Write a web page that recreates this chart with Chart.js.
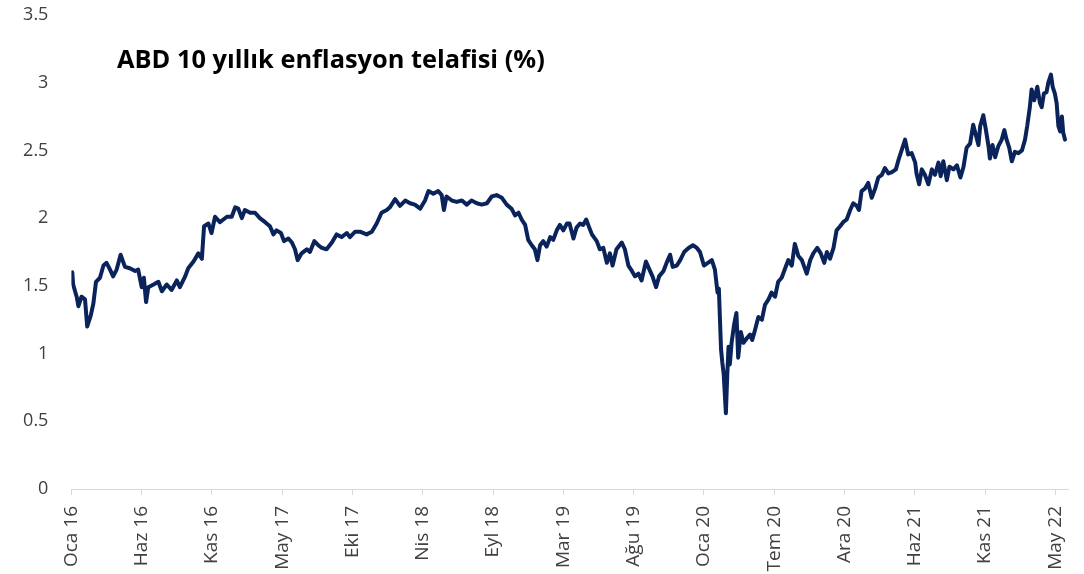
<!DOCTYPE html>
<html lang="tr">
<head>
<meta charset="utf-8">
<title>ABD 10 yıllık enflasyon telafisi</title>
<script src="https://cdn.jsdelivr.net/npm/chart.js@4.4.0/dist/chart.umd.min.js"></script>
<style>
  html, body { margin: 0; padding: 0; background: #fff; }
  #wrap { position: relative; width: 1084px; height: 574px; }
  #title {
    position: absolute; left: 117px; top: 46px;
    font: bold 25.4px/25px "Open Sans", sans-serif; color: #000; white-space: nowrap;
  }
</style>
</head>
<body>
<div id="wrap">
  <canvas id="chart"></canvas>
  <div id="title">ABD 10 yıllık enflasyon telafisi (%)</div>
</div>
<script>
// x axis: one tick label every 16 sample steps (trading-day based, so labels are evenly spaced)
const STEPS_PER_LABEL = 16;
const X_MAX = 227;

const tickLabels = ["Oca 16", "Haz 16", "Kas 16", "May 17", "Eki 17", "Nis 18", "Eyl 18",
  "Mar 19", "Ağu 19", "Oca 20", "Tem 20", "Ara 20", "Haz 21", "Kas 21", "May 22"];

const yTicks = [0, 0.5, 1, 1.5, 2, 2.5, 3, 3.5];

// sample position (in steps from Oca 16) and breakeven value (%)
const steps = [
  0.2, 0.4, 1.2, 1.6, 2.3, 3.1, 3.6, 4.4, 5.0, 5.6, 6.5, 7.3, 8.0, 8.8, 9.5, 10.3, 11.2, 12.2, 13.3, 14.5,
  15.2, 16.0, 16.5, 17.0, 17.5, 18.7, 19.8, 20.6, 21.7, 22.8, 24.0, 24.7, 25.9, 26.6, 27.8, 28.9, 29.7, 30.2, 31.2, 31.9,
  32.7, 33.8, 34.6, 35.4, 36.5, 37.3, 38.0, 38.8, 39.5, 40.7, 41.8, 42.9, 44.1, 45.2, 46.0, 46.7, 47.7, 48.4, 49.4, 50.2,
  50.9, 51.5, 52.4, 53.6, 54.3, 55.3, 56.2, 57.0, 58.1, 59.3, 60.4, 61.5, 62.7, 63.4, 64.6, 65.7, 67.2, 68.4, 69.5, 70.6,
  71.8, 72.5, 73.7, 74.8, 76.0, 77.1, 78.2, 79.4, 80.5, 81.3, 82.4, 83.5, 84.3, 84.8, 85.4, 86.6, 87.7, 88.9, 90.0, 91.1,
  92.3, 93.4, 94.6, 95.7, 96.8, 98.0, 99.1, 100.2, 101.0, 101.8, 102.5, 103.3, 104.0, 104.8, 105.5, 106.1, 106.7, 107.4, 108.2, 109.0,
  109.7, 110.5, 111.2, 112.0, 112.8, 113.4, 114.3, 115.0, 115.8, 116.5, 117.2, 117.9, 118.5, 119.6, 120.3, 121.1, 121.9, 122.6, 123.2, 124.1,
  125.3, 126.0, 126.8, 127.6, 128.3, 129.1, 129.8, 130.8, 131.6, 132.3, 133.1, 133.8, 134.8, 135.5, 136.3, 136.9, 137.8, 138.6, 139.5, 140.5,
  141.5, 142.4, 143.1, 144.0, 144.9, 145.8, 146.5, 147.1, 147.4, 147.9, 148.2, 148.5, 149.0, 149.3, 149.6, 149.9, 150.3, 150.9, 151.4, 151.8,
  152.4, 153.0, 153.7, 154.5, 155.0, 155.6, 156.4, 157.2, 157.9, 158.7, 159.4, 160.2, 160.9, 161.7, 162.5, 163.2, 164.0, 164.7, 165.5, 166.3,
  167.4, 168.2, 168.9, 169.8, 170.6, 171.4, 172.0, 172.7, 173.5, 174.2, 175.0, 175.7, 176.5, 177.3, 178.0, 178.8, 179.3, 179.9, 180.7, 181.4,
  182.2, 183.0, 183.7, 184.5, 185.2, 186.0, 186.8, 187.7, 188.3, 189.0, 189.8, 190.5, 191.3, 192.1, 192.4, 193.0, 193.6, 194.3, 195.1, 195.9,
  196.6, 197.4, 197.9, 198.5, 199.3, 199.9, 200.8, 201.6, 202.4, 203.1, 203.8, 204.6, 205.3, 205.7, 206.5, 206.9, 207.6, 208.2, 208.8, 209.1,
  209.7, 210.3, 211.0, 211.8, 212.4, 212.9, 213.5, 214.1, 214.8, 215.6, 216.4, 217.1, 217.6, 218.2, 218.6, 219.2, 219.9, 220.5, 220.9, 221.4,
  222.0, 222.4, 223.0, 223.4, 223.9, 224.3, 224.7, 225.1, 225.5, 225.8, 226.2
];

const breakeven = [
  1.60, 1.51, 1.42, 1.35, 1.42, 1.40, 1.20, 1.28, 1.37, 1.53, 1.56, 1.65, 1.67, 1.62, 1.57, 1.62, 1.73, 1.64, 1.63, 1.61,
  1.62, 1.49, 1.56, 1.38, 1.49, 1.51, 1.53, 1.46, 1.51, 1.47, 1.54, 1.49, 1.57, 1.63, 1.68, 1.74, 1.70, 1.94, 1.96, 1.89,
  2.01, 1.97, 1.99, 2.01, 2.01, 2.08, 2.07, 2.00, 2.06, 2.04, 2.04, 2.00, 1.97, 1.94, 1.88, 1.91, 1.89, 1.83, 1.85, 1.82,
  1.77, 1.69, 1.74, 1.77, 1.75, 1.83, 1.80, 1.78, 1.77, 1.82, 1.88, 1.86, 1.89, 1.86, 1.90, 1.90, 1.88, 1.90, 1.96, 2.04,
  2.06, 2.08, 2.14, 2.09, 2.13, 2.11, 2.10, 2.07, 2.13, 2.20, 2.18, 2.20, 2.17, 2.06, 2.16, 2.13, 2.12, 2.13, 2.10, 2.13,
  2.11, 2.10, 2.11, 2.16, 2.17, 2.15, 2.10, 2.07, 2.02, 2.04, 1.99, 1.95, 1.84, 1.80, 1.77, 1.69, 1.80, 1.83, 1.79, 1.86,
  1.84, 1.91, 1.95, 1.91, 1.96, 1.96, 1.85, 1.93, 1.96, 1.95, 1.99, 1.93, 1.88, 1.83, 1.77, 1.78, 1.67, 1.74, 1.65, 1.77,
  1.82, 1.77, 1.65, 1.61, 1.57, 1.59, 1.54, 1.68, 1.62, 1.57, 1.49, 1.57, 1.61, 1.67, 1.73, 1.64, 1.65, 1.69, 1.75, 1.78,
  1.80, 1.78, 1.75, 1.65, 1.67, 1.69, 1.62, 1.45, 1.48, 1.03, 0.93, 0.85, 0.56, 0.83, 1.05, 0.92, 1.08, 1.22, 1.30, 0.97,
  1.16, 1.08, 1.11, 1.14, 1.10, 1.17, 1.27, 1.25, 1.36, 1.40, 1.45, 1.42, 1.53, 1.56, 1.63, 1.69, 1.65, 1.81, 1.72, 1.69,
  1.59, 1.69, 1.74, 1.78, 1.74, 1.67, 1.75, 1.70, 1.78, 1.91, 1.94, 1.97, 1.99, 2.06, 2.11, 2.09, 2.06, 2.20, 2.22, 2.26,
  2.15, 2.22, 2.30, 2.32, 2.37, 2.33, 2.34, 2.36, 2.43, 2.50, 2.58, 2.47, 2.48, 2.41, 2.33, 2.25, 2.36, 2.32, 2.25, 2.36,
  2.32, 2.41, 2.31, 2.42, 2.28, 2.38, 2.36, 2.39, 2.30, 2.38, 2.52, 2.55, 2.69, 2.64, 2.54, 2.68, 2.76, 2.65, 2.53, 2.44,
  2.54, 2.45, 2.53, 2.58, 2.65, 2.58, 2.52, 2.42, 2.49, 2.48, 2.50, 2.58, 2.68, 2.82, 2.95, 2.87, 2.97, 2.85, 2.82, 2.92,
  2.93, 3.00, 3.06, 2.97, 2.92, 2.85, 2.68, 2.64, 2.75, 2.63, 2.58
];

const FONT = "'Open Sans', 'Noto Sans', sans-serif";
const LABEL_COLOR = "#404040";
const AXIS_COLOR = "#d9d9d9";

new Chart(document.getElementById("chart"), {
  type: "line",
  data: {
    datasets: [{
      data: steps.map((x, i) => ({ x, y: breakeven[i] })),
      borderColor: "#0a235a",
      borderWidth: 4,
      pointRadius: 0,
      tension: 0,
      borderJoinStyle: "round",
      borderCapStyle: "round",
    }],
  },
  options: {
    responsive: true,
    maintainAspectRatio: false,
    animation: false,
    layout: { padding: { top: 15, right: 15.5, bottom: 0, left: 0 } },
    plugins: { legend: { display: false }, tooltip: { enabled: false } },
    scales: {
      x: {
        type: "linear",
        min: 0,
        max: X_MAX,
        afterBuildTicks: (s) => { s.ticks = tickLabels.map((_, i) => ({ value: i * STEPS_PER_LABEL })); },
        afterFit: (s) => { s.height = 85; s.paddingLeft = 0; s.paddingRight = 0; },
        grid: { display: true, drawOnChartArea: false, drawTicks: true, tickLength: 6, color: AXIS_COLOR },
        border: { display: true, color: AXIS_COLOR, width: 1 },
        ticks: {
          autoSkip: false, maxRotation: 90, minRotation: 90, padding: 11,
          color: LABEL_COLOR, font: { family: FONT, size: 19 },
          callback: (v) => tickLabels[Math.round(v / STEPS_PER_LABEL)],
        },
      },
      y: {
        min: yTicks[0],
        max: yTicks[yTicks.length - 1],
        afterBuildTicks: (s) => { s.ticks = yTicks.map((v) => ({ value: v })); },
        afterFit: (s) => { s.width = 71.4; s.paddingTop = 0; s.paddingBottom = 0; },
        grid: { display: false, drawTicks: false },
        border: { display: false },
        ticks: {
          padding: 23, color: LABEL_COLOR, font: { family: FONT, size: 18 },
          callback: (v) => String(v),
        },
      },
    },
  },
});
</script>
</body>
</html>
